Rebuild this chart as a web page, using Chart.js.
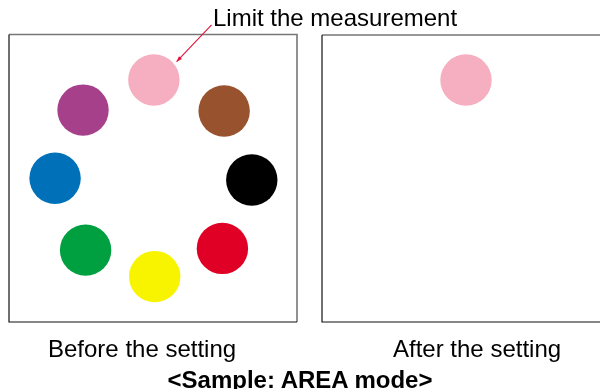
<!DOCTYPE html>
<html>
<head>
<meta charset="utf-8">
<script src="https://cdn.jsdelivr.net/npm/chart.js@4/dist/chart.umd.min.js"></script>
<style>
  html, body { margin: 0; padding: 0; background: #fff; overflow: hidden; }
  #page { position: relative; width: 600px; height: 389px; overflow: hidden; font-family: Arial, "Liberation Sans", sans-serif; color: #000; }
  .wrap { position: absolute; left: 0; top: 0; height: 389px; }
  .txt { position: absolute; font-size: 24px; line-height: 24px; white-space: nowrap; }
</style>
</head>
<body>
<div id="page">
  <div class="wrap" style="width:600px"><canvas id="before"></canvas></div>
  <div class="wrap" style="width:620px"><canvas id="after"></canvas></div>
  <div class="txt" id="label" style="left:213px; top:6px">Limit the measurement</div>
  <div class="txt" style="left:48px; top:337px">Before the setting</div>
  <div class="txt" style="left:393px; top:337px">After the setting</div>
  <div class="txt" style="left:0; width:600px; text-align:center; top:368px; font-weight:bold">&lt;Sample: AREA mode&gt;</div>
</div>
<script>
// dot positions inside each panel, 0-100 on both axes
var dotNames = ['pink', 'brown', 'black', 'red', 'yellow', 'green', 'blue', 'purple'];
var beforeX = [50.3, 74.7, 84.3, 74.1, 50.6, 26.6, 16.0, 25.7];
var beforeY = [84.2, 73.4, 49.4, 25.6, 15.8, 25.0, 50.0, 73.7];
var afterNames = ['pink'];
var afterX = [50.0];
var afterY = [84.3];

var palette = {
    pink: '#f5afc0', brown: '#98522d', black: '#000000', red: '#e00025',
    yellow: '#f8f400', green: '#00a040', blue: '#0071b9', purple: '#a6408b'
};

function points(xs, ys) {
    return xs.map(function (x, i) { return { x: x, y: ys[i] }; });
}

// frame around the plot area: grey top/right, black left/bottom
var framePlugin = {
    id: 'frame',
    afterDraw: function (chart) {
        var a = chart.chartArea, ctx = chart.ctx;
        ctx.save();
        ctx.lineWidth = 1.6;
        ctx.strokeStyle = '#777777';
        ctx.beginPath();
        ctx.moveTo(a.left, a.top);
        ctx.lineTo(a.right, a.top);
        ctx.lineTo(a.right, a.bottom);
        ctx.stroke();
        ctx.lineWidth = 1.2;
        ctx.strokeStyle = '#111111';
        ctx.beginPath();
        ctx.moveTo(a.left, a.top);
        ctx.lineTo(a.left, a.bottom);
        ctx.lineTo(a.right, a.bottom);
        ctx.stroke();
        ctx.restore();
    }
};

// arrow pointing at the first (pink) dot
var arrowPlugin = {
    id: 'arrow',
    afterDraw: function (chart) {
        if (!chart.options.plugins.arrow.show) return;
        var px = chart.scales.x.getPixelForValue(beforeX[0]);
        var py = chart.scales.y.getPixelForValue(beforeY[0]);
        var tx = px + 22.7, ty = py - 18.3;
        var sx = px + 57.7, sy = py - 55;
        var ang = Math.atan2(ty - sy, tx - sx);
        var ctx = chart.ctx;
        ctx.save();
        ctx.strokeStyle = '#e0123c';
        ctx.fillStyle = '#e0123c';
        ctx.lineWidth = 1.1;
        ctx.beginPath();
        ctx.moveTo(sx, sy);
        ctx.lineTo(tx, ty);
        ctx.stroke();
        ctx.beginPath();
        ctx.moveTo(tx, ty);
        ctx.lineTo(tx - 6 * Math.cos(ang - 0.35), ty - 6 * Math.sin(ang - 0.35));
        ctx.lineTo(tx - 6 * Math.cos(ang + 0.35), ty - 6 * Math.sin(ang + 0.35));
        ctx.closePath();
        ctx.fill();
        ctx.restore();
    }
};

function makePanel(id, names, xs, ys, padding, showArrow) {
    return new Chart(document.getElementById(id), {
        type: 'scatter',
        data: {
            datasets: [{
                data: points(xs, ys),
                backgroundColor: names.map(function (n) { return palette[n]; }),
                borderWidth: 0,
                pointRadius: 25.7,
                pointHoverRadius: 25.7
            }]
        },
        options: {
            responsive: true,
            maintainAspectRatio: false,
            animation: false,
            events: [],
            layout: { padding: padding, autoPadding: false },
            scales: {
                x: { type: 'linear', min: 0, max: 100, display: false },
                y: { type: 'linear', min: 0, max: 100, display: false }
            },
            plugins: {
                legend: { display: false },
                tooltip: { enabled: false },
                arrow: { show: showArrow }
            }
        },
        plugins: [framePlugin, arrowPlugin]
    });
}

makePanel('before', dotNames, beforeX, beforeY, { left: 9, top: 34.5, right: 303, bottom: 67 }, true);
makePanel('after', afterNames, afterX, afterY, { left: 322, top: 35, right: 10, bottom: 67 }, false);
</script>
</body>
</html>
